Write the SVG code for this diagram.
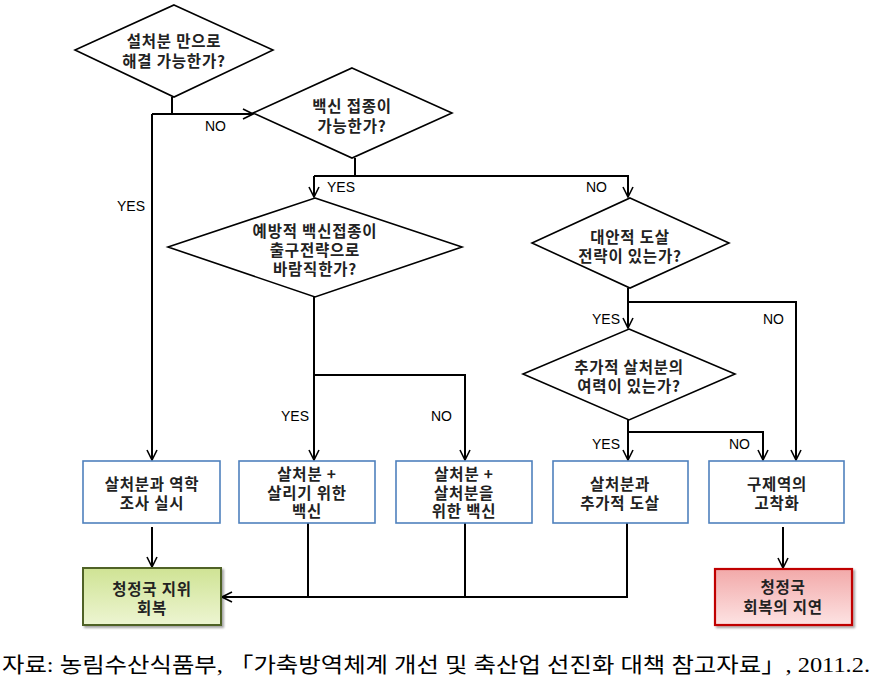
<svg xmlns="http://www.w3.org/2000/svg" width="894" height="695" viewBox="0 0 894 695">
<defs>
<marker id="arr" viewBox="0 0 12 12" refX="11" refY="6" markerWidth="12" markerHeight="12" markerUnits="userSpaceOnUse" orient="auto">
<path d="M1,1 L11,6 L1,11" fill="none" stroke="#000" stroke-width="1.6"/>
</marker>
<linearGradient id="gG" x1="0" y1="0" x2="0" y2="1">
<stop offset="0" stop-color="#cfe394"/>
<stop offset="1" stop-color="#edf5d2"/>
</linearGradient>
<linearGradient id="gR" x1="0" y1="0" x2="0" y2="1">
<stop offset="0" stop-color="#f2a9a9"/>
<stop offset="1" stop-color="#fde3e3"/>
</linearGradient>
<filter id="sh" x="-10%" y="-10%" width="130%" height="130%">
<feDropShadow dx="2" dy="2" stdDeviation="1.2" flood-color="#000" flood-opacity="0.35"/>
</filter>
</defs>
<style>
.d{fill:#fff;stroke:#000;stroke-width:1.6}
.b{fill:#fff;stroke:#4f81bd;stroke-width:1.6}
.t{font-family:"Noto Sans CJK KR","Noto Sans",sans-serif;font-weight:bold;font-size:15.5px;letter-spacing:0.8px;fill:#222;text-anchor:middle}
.l{font-family:"Liberation Sans","Noto Sans CJK KR",sans-serif;font-size:14px;fill:#000}
.c{fill:none;stroke:#000;stroke-width:2}
.a{marker-end:url(#arr)}
</style>
<rect width="894" height="695" fill="#fff"/>
<g id="connectors">
<polyline class="c" points="172,97 172,114"/>
<polyline class="c a" points="152,114 253,114"/>
<polyline class="c a" points="152,114 152,460"/>
<polyline class="c" points="355,158 355,176"/>
<polyline class="c a" points="314,176 628,176 628,197"/>
<polyline class="c a" points="314,176 314,197"/>
<polyline class="c a" points="314,297 314,460"/>
<polyline class="c a" points="314,375 465,375 465,460"/>
<polyline class="c" points="628,288 628,302"/>
<polyline class="c a" points="628,302 628,328"/>
<polyline class="c a" points="628,302 796,302 796,460"/>
<polyline class="c" points="628,420 628,432"/>
<polyline class="c a" points="628,432 628,460"/>
<polyline class="c a" points="628,432 763,432 763,460"/>
<polyline class="c a" points="152,527 152,567"/>
<polyline class="c a" points="783,527 783,568"/>
<polyline class="c" points="308,523 308,597"/>
<polyline class="c" points="465,523 465,597"/>
<polyline class="c a" points="627,523 627,597 222,597"/>
<text class="l" x="205" y="131">NO</text>
<text class="l" x="117" y="211">YES</text>
<text class="l" x="327" y="192">YES</text>
<text class="l" x="586" y="192">NO</text>
<text class="l" x="281" y="421">YES</text>
<text class="l" x="431" y="421">NO</text>
<text class="l" x="592" y="324">YES</text>
<text class="l" x="763" y="324">NO</text>
<text class="l" x="592" y="449">YES</text>
<text class="l" x="729" y="449">NO</text>
</g>
<g id="q1">
<polygon class="d" points="174,5 273,50 174,97 75,50"/>
<text class="t" x="174" y="47">설처분 만으로<tspan x="174" dy="20">해결 가능한가?</tspan></text>
</g>
<g id="q2">
<polygon class="d" points="352,68 452,113 352,158 253,113"/>
<text class="t" x="352" y="112">백신 접종이<tspan x="352" dy="20">가능한가?</tspan></text>
</g>
<g id="q3">
<polygon class="d" points="315,198 462,247 315,297 168,247"/>
<text class="t" x="315" y="237">예방적 백신접종이<tspan x="315" dy="19">출구전략으로</tspan><tspan x="315" dy="19">바람직한가?</tspan></text>
</g>
<g id="q4">
<polygon class="d" points="630,198 729,243 630,288 532,243"/>
<text class="t" x="630" y="243">대안적 도살<tspan x="630" dy="19">전략이 있는가?</tspan></text>
</g>
<g id="q5">
<polygon class="d" points="629,329 735,374 629,420 523,374"/>
<text class="t" x="629" y="373">추가적 살처분의<tspan x="629" dy="19">여력이 있는가?</tspan></text>
</g>
<g id="b1">
<rect class="b" x="83" y="461" width="137" height="62"/>
<text class="t" x="152" y="490">살처분과 역학<tspan x="152" dy="19">조사 실시</tspan></text>
</g>
<g id="b2">
<rect class="b" x="239" y="461" width="136" height="62"/>
<text class="t" x="307" y="480">살처분 +<tspan x="307" dy="18.5">살리기 위한</tspan><tspan x="307" dy="18.5">백신</tspan></text>
</g>
<g id="b3">
<rect class="b" x="396" y="461" width="136" height="62"/>
<text class="t" x="464" y="480">살처분 +<tspan x="464" dy="18.5">살처분을</tspan><tspan x="464" dy="18.5">위한 백신</tspan></text>
</g>
<g id="b4">
<rect class="b" x="553" y="461" width="135" height="62"/>
<text class="t" x="620" y="490">살처분과<tspan x="620" dy="19">추가적 도살</tspan></text>
</g>
<g id="b5">
<rect class="b" x="709" y="461" width="135" height="62"/>
<text class="t" x="777" y="490">구제역의<tspan x="777" dy="19">고착화</tspan></text>
</g>
<g id="ok">
<rect x="83" y="568" width="138" height="57" fill="url(#gG)" stroke="#4f6228" stroke-width="2" filter="url(#sh)"/>
<text class="t" x="152" y="595">청정국 지위<tspan x="152" dy="19">회복</tspan></text>
</g>
<g id="delay">
<rect x="715" y="569" width="137" height="56" fill="url(#gR)" stroke="#c00000" stroke-width="2.2" filter="url(#sh)"/>
<text class="t" x="783" y="593">청정국<tspan x="783" dy="20">회복의 지연</tspan></text>
</g>
<text x="2" y="672" font-family="'Liberation Serif','Noto Sans CJK KR',serif" font-size="21" fill="#000" textLength="868" lengthAdjust="spacingAndGlyphs">자료: 농림수산식품부, 「가축방역체계 개선 및 축산업 선진화 대책 참고자료」, 2011.2.</text>
</svg>
